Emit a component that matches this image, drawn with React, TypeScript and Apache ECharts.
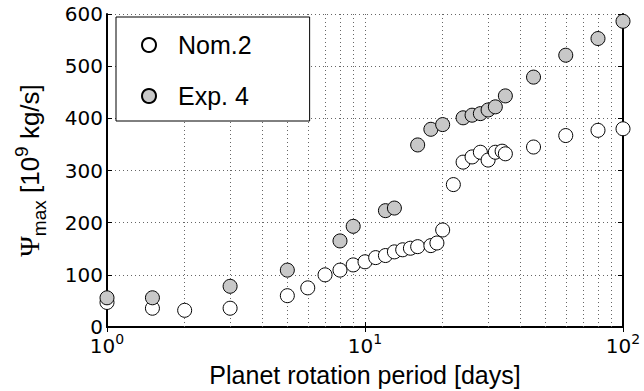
import React, { useEffect, useRef } from "react";
import * as echarts from "echarts";

const nomPeriod = [1, 1.5, 2, 3, 5, 6, 7, 8, 9, 10, 11, 12, 13, 14, 15, 16, 18, 19, 20, 22, 24, 26, 28, 30, 32, 34, 35, 45, 60, 80, 100];
const nomPsi = [47, 36, 32, 36, 60, 75, 100, 109, 119, 125, 133, 137, 144, 148, 151, 154, 156, 161, 186, 273, 316, 326, 335, 320, 335, 337, 332, 345, 367, 377, 380];

const expPeriod = [1, 1.5, 3, 5, 8, 9, 12, 13, 16, 18, 20, 24, 26, 28, 30, 32, 35, 45, 60, 80, 100];
const expPsi = [56, 56, 78, 109, 165, 193, 223, 228, 349, 379, 388, 401, 406, 409, 416, 422, 443, 479, 521, 553, 586];

const minorX = [2, 3, 4, 5, 6, 7, 8, 9, 20, 30, 40, 50, 60, 70, 80, 90];

const seriesNames = ["Nom.2", "Exp. 4"];
const xTitle = "Planet rotation period [days]";

const SANS = "Liberation Sans";
const TICKF = "DejaVu Sans";
const GRID_COLOR = "#666";

export default function App() {
  const ref = useRef<HTMLDivElement>(null);
  useEffect(() => {
    document.body.style.margin = "0";
    const chart = echarts.init(ref.current!, null, { renderer: "svg" });
    const axisLine = { show: true, lineStyle: { color: "#000", width: 2 } };
    const option: any = {
      animation: false,
      backgroundColor: "#fff",
      grid: { left: 107, right: 21, top: 14, bottom: 64, containLabel: false, outerBoundsMode: "none" },
      legend: {
        orient: "vertical",
        left: 116,
        top: 17,
        data: seriesNames,
        icon: "circle",
        itemWidth: 14,
        itemHeight: 14,
        itemGap: 21,
        padding: [13, 58, 10, 25],
        backgroundColor: "#fff",
        borderColor: "#000",
        borderWidth: 1,
        borderRadius: 0,
        selectedMode: false,
        textStyle: {
          fontFamily: SANS,
          fontSize: 25,
          color: "#000",
          lineHeight: 30,
          padding: [0, 0, 0, 17],
        },
      },
      xAxis: [
        {
          type: "log",
          logBase: 10,
          min: 1,
          max: 100,
          position: "bottom",
          name: xTitle,
          nameLocation: "middle",
          nameGap: 35,
          nameMoveOverlap: false,
          nameTextStyle: { fontFamily: SANS, fontSize: 25, color: "#000" },
          axisLine,
          axisTick: { show: true, inside: true, length: 5, lineStyle: { color: "#000", width: 1 } },
          axisLabel: {
            margin: 14,
            formatter: (v: number) => `{b|10}{s|${Math.round(Math.log10(v))}}`,
            rich: {
              b: { fontFamily: TICKF, fontSize: 20, lineHeight: 15, verticalAlign: "bottom", color: "#000" },
              s: { fontFamily: TICKF, fontSize: 14, lineHeight: 11, padding: [0, 0, 10, 0], verticalAlign: "bottom", color: "#000" },
            },
          },
          splitLine: { show: true, lineStyle: { color: GRID_COLOR, type: [1, 3], width: 1 } },
        },
        {
          type: "log",
          logBase: 10,
          min: 1,
          max: 100,
          position: "top",
          axisLine,
          axisTick: { show: true, inside: true, length: 5, lineStyle: { color: "#000", width: 1 } },
          axisLabel: { show: false },
          splitLine: { show: false },
        },
      ],
      yAxis: [
        {
          type: "value",
          min: 0,
          max: 600,
          interval: 100,
          position: "left",
          name: "{psi|Ψ}{sub|max}{m| [10}{sup|9}{m| kg/s]}",
          nameLocation: "middle",
          nameRotate: 90,
          nameGap: 58,
          nameMoveOverlap: false,
          nameTextStyle: {
            rich: {
              psi: { fontFamily: "Liberation Serif", fontSize: 28, lineHeight: 27, padding: [0, 0, 6, 0], verticalAlign: "bottom", color: "#000" },
              m: { fontFamily: SANS, fontSize: 26, lineHeight: 27, padding: [0, 0, 6, 0], verticalAlign: "bottom", color: "#000" },
              sub: { fontFamily: SANS, fontSize: 19, lineHeight: 19, verticalAlign: "bottom", color: "#000" },
              sup: { fontFamily: SANS, fontSize: 19, lineHeight: 19, padding: [0, 0, 18, 0], verticalAlign: "bottom", color: "#000" },
            },
          },
          axisLine,
          axisTick: { show: true, inside: true, length: 5, lineStyle: { color: "#000", width: 1 } },
          axisLabel: { fontFamily: TICKF, fontSize: 20, lineHeight: 14, color: "#000", margin: 4 },
          splitLine: { show: true, lineStyle: { color: GRID_COLOR, type: [1, 3], width: 1 } },
        },
        {
          type: "value",
          min: 0,
          max: 600,
          interval: 100,
          position: "right",
          axisLine,
          axisTick: { show: true, inside: true, length: 5, lineStyle: { color: "#000", width: 1 } },
          axisLabel: { show: false },
          splitLine: { show: false },
        },
      ],
      series: [
        {
          name: seriesNames[0],
          type: "scatter",
          xAxisIndex: 0,
          yAxisIndex: 0,
          symbol: "circle",
          symbolSize: 14,
          itemStyle: { color: "#fff", borderColor: "#000", borderWidth: 1, opacity: 1 },
          data: nomPeriod.map((p, i) => [p, nomPsi[i]]),
          markLine: {
            silent: true,
            z: 1,
            symbol: "none",
            label: { show: false },
            emphasis: { disabled: true },
            lineStyle: { color: GRID_COLOR, type: [1, 3], width: 1 },
            data: minorX.map((v) => ({ xAxis: v })),
          },
        },
        {
          name: seriesNames[1],
          type: "scatter",
          xAxisIndex: 0,
          yAxisIndex: 0,
          symbol: "circle",
          symbolSize: 14,
          itemStyle: { color: "#c8c8c8", borderColor: "#000", borderWidth: 1, opacity: 1 },
          data: expPeriod.map((p, i) => [p, expPsi[i]]),
        },
      ],
    };
    chart.setOption(option);
    return () => chart.dispose();
  }, []);
  return <div ref={ref} style={{ width: 644, height: 391 }} />;
}
